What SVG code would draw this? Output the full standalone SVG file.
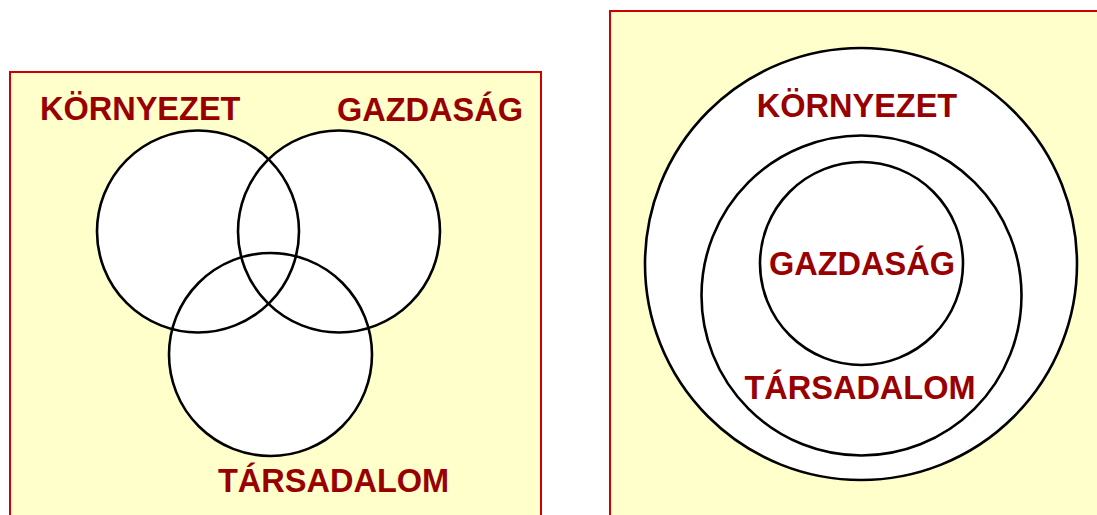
<svg xmlns="http://www.w3.org/2000/svg" width="1097" height="515" viewBox="0 0 1097 515">
<style>
.panel{fill:#ffffcc;stroke:#cc0000;stroke-width:2}
.fillc{fill:#ffffff;stroke:none}
.ring{fill:none;stroke:#000000;stroke-width:2.6}
.disc{fill:#ffffff;stroke:#000000;stroke-width:2.6}
.lbl{font-family:"Liberation Sans",Arial,sans-serif;font-weight:bold;font-size:32.5px;fill:#990000}
</style>
<rect width="1097" height="515" fill="#ffffff"/>
<g id="venn-panel">
<rect class="panel" x="10" y="72" width="531" height="460"/>
</g>
<g id="venn-fills">
<circle class="fillc" cx="198" cy="231.5" r="101"/>
<circle class="fillc" cx="339" cy="231.5" r="101"/>
<circle class="fillc" cx="270.5" cy="354.5" r="101.5"/>
</g>
<g id="node-kornyezet-venn">
<circle class="ring" cx="198" cy="231.5" r="101"/>
<text class="lbl" x="40" y="120">KÖRNYEZET</text>
</g>
<g id="node-gazdasag-venn">
<circle class="ring" cx="339" cy="231.5" r="101"/>
<text class="lbl" x="337" y="121">GAZDASÁG</text>
</g>
<g id="node-tarsadalom-venn">
<circle class="ring" cx="270.5" cy="354.5" r="101.5"/>
<text class="lbl" x="218" y="492">TÁRSADALOM</text>
</g>
<g id="nested-panel">
<rect class="panel" x="610" y="11" width="500" height="520"/>
</g>
<g id="node-kornyezet-nested">
<circle class="disc" cx="861" cy="264" r="216"/>
<text class="lbl" x="857" y="117" text-anchor="middle">KÖRNYEZET</text>
</g>
<g id="node-tarsadalom-nested">
<circle class="disc" cx="861.5" cy="295.5" r="160"/>
<text class="lbl" x="860" y="399" text-anchor="middle">TÁRSADALOM</text>
</g>
<g id="node-gazdasag-nested">
<circle class="disc" cx="861.5" cy="263.5" r="101.5"/>
<text class="lbl" x="862" y="275" text-anchor="middle">GAZDASÁG</text>
</g>
<g id="connectors"></g>
</svg>
